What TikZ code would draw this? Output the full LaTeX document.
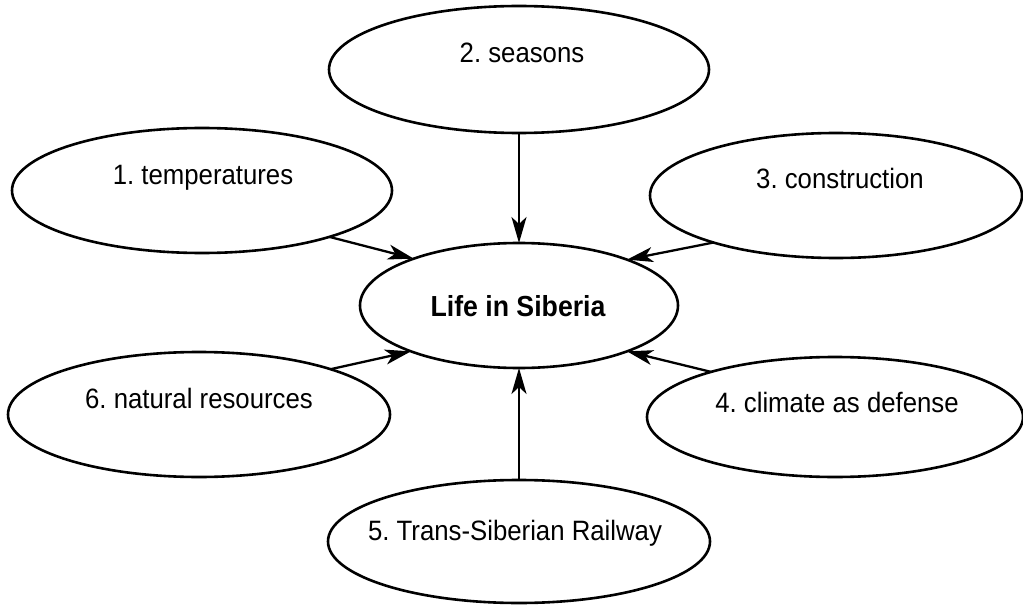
\documentclass[tikz,border=0pt]{standalone}
\usepackage{fontspec}
\setmainfont{Liberation Sans}[FakeStretch=0.92]
\frenchspacing
\usetikzlibrary{shapes.geometric,arrows.meta}
\tikzset{
  bubble/.style={draw=black, line width=2.6pt, ellipse, inner sep=0pt, outer sep=0pt},
  lbl/.style={anchor=base, inner sep=0pt, font=\fontsize{28}{30}\selectfont},
  mainlbl/.style={anchor=base, inner sep=0pt, font=\fontsize{29}{31}\selectfont\bfseries},
  link/.style={line width=2.3pt, -{Stealth[length=26pt, width=15pt, inset=7pt]}},
}
\begin{document}
\begin{tikzpicture}[x=1pt, y=-1pt]
\useasboundingbox (0,0) rectangle (1023,607);
% ellipses
\node[bubble, minimum width=318pt, minimum height=125pt] (center) at (519,305.5) {};
\node[bubble, minimum width=380pt, minimum height=127pt] (seasons) at (519,69.5) {};
\node[bubble, minimum width=380pt, minimum height=125pt] (temp) at (202,190.5) {};
\node[bubble, minimum width=372pt, minimum height=125pt] (constr) at (836,195.5) {};
\node[bubble, minimum width=382pt, minimum height=125pt] (natres) at (199,414.5) {};
\node[bubble, minimum width=376pt, minimum height=120pt] (climate) at (835,417) {};
\node[bubble, minimum width=382pt, minimum height=123pt] (rail) at (519,541.5) {};
% texts
\node[mainlbl] (tc) at (518,316.5) {Life in Siberia};
\node[lbl] (t2) at (522,63) {2. seasons};
\node[lbl] (t1) at (203,184) {1. temperatures};
\node[lbl] (t3) at (840,188) {3. construction};
\node[lbl] (t6) at (199,408) {6. natural resources};
\node[lbl] (t4) at (837,412.5) {4. climate as defense};
\node[lbl] (t5) at (515,540.5) {5. Trans-Siberian Railway};
% connectors
\draw[link] (seasons.south) -- (center.north);
\draw[link] (rail.north) -- (center.south);
\draw[link] (temp.-20.4) -- (center.156);
\draw[link] (constr.-159.7) -- (center.23.5);
\draw[link] (natres.19.8) -- (center.-157.3);
\draw[link] (climate.160.2) -- (center.-23.5);
\end{tikzpicture}
\end{document}
